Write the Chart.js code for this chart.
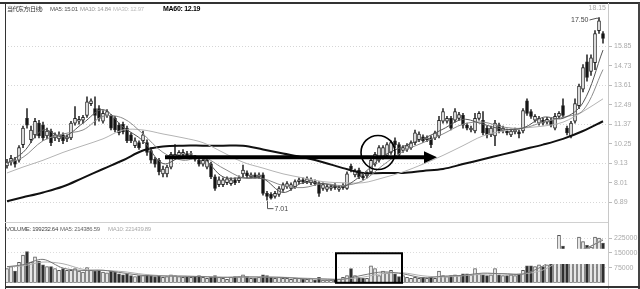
<!DOCTYPE html>
<html>
<head>
<meta charset="utf-8">
<script src="https://cdn.jsdelivr.net/npm/chart.js@4.4.0/dist/chart.umd.min.js"></script>
<style>
  body { margin: 0; background: #fff; }
  #wrap { position: relative; width: 640px; height: 289px; overflow: hidden; font-family: "Liberation Sans", "Noto Sans CJK SC", sans-serif; }
  canvas { position: absolute; left: 0; }
  #price { top: 0; }
  #vol { top: 222px; }
  .ln { position: absolute; }
  .t { position: absolute; white-space: nowrap; font-size: 6px; line-height: 7px; letter-spacing: -0.3px; }
</style>
</head>
<body>
<div id="wrap">
  <canvas id="price" width="640" height="222"></canvas>
  <canvas id="vol" width="640" height="67"></canvas>

  <!-- frame -->
  <div class="ln" style="left:0;top:2px;width:640px;height:2px;background:#333"></div>
  <div class="ln" style="left:5px;top:3px;width:1px;height:286px;background:#333"></div>
  <div class="ln" style="left:608px;top:3px;width:1px;height:286px;background:#c8c8c8"></div>
  <div class="ln" style="left:638px;top:3px;width:2px;height:286px;background:#444"></div>
  <div class="ln" style="left:5px;top:222px;width:603px;height:1px;background:#d0d0d0"></div>
  <div class="ln" style="left:5px;top:286px;width:635px;height:2px;background:#333"></div>

  <!-- headers -->
  <span class="t" style="left:7px;top:6px;color:#333;letter-spacing:-0.6px">当代东方(日线)</span>
  <span class="t" style="left:50px;top:6px;color:#555">MA5: 15.01</span>
  <span class="t" style="left:80px;top:6px;color:#999">MA10: 14.84</span>
  <span class="t" style="left:113px;top:6px;color:#bbb">MA30: 12.97</span>
  <span class="t" style="left:163px;top:5px;color:#000;font-weight:bold;font-size:7px">MA60: 12.19</span>

  <span class="t" style="left:6px;top:226px;color:#444">VOLUME: 199232.64</span>
  <span class="t" style="left:60px;top:226px;color:#666">MA5: 214386.59</span>
  <span class="t" style="left:108px;top:226px;color:#aaa">MA10: 221439.89</span>
</div>

<script>
// daily candles, index 0 .. 149
const opens = [8.97,9.19,9.30,9.30,10.20,11.71,10.48,10.76,11.43,11.32, 10.70,10.98,10.59,10.53,10.76,10.53,10.59,11.43,11.54,11.60,
  11.88,12.55,12.27,12.27,11.54,11.88,11.82,11.71,11.32,11.37, 11.15,10.76,10.14,10.31,10.42,10.31,9.86,9.36,9.30,8.52,
  8.52,8.91,9.47,9.58,9.64,9.69,9.64,9.47,9.30,9.08, 8.91,9.08,8.35,7.90,7.90,8.01,7.96,8.18,8.13,8.52,
  8.58,8.35,8.46,8.35,8.46,7.40,7.34,7.23,7.34,7.62, 7.79,7.68,7.79,8.07,8.18,8.07,8.01,8.07,7.96,7.68,
  7.62,7.68,7.85,7.62,7.73,7.68,8.96,8.46,8.74,8.41, 8.41,8.63,9.08,9.30,9.47,9.58,9.75,10.42,10.20,9.86,
  9.92,10.03,10.31,10.48,10.65,10.48,10.59,10.59,10.70,11.54, 11.54,11.71,11.60,11.71,11.88,11.32,11.04,10.98,11.71,11.60,
  11.15,10.76,10.70,11.32,10.98,10.98,10.76,10.93,10.93,10.98, 12.72,12.10,11.60,11.43,11.60,11.49,11.60,11.15,11.82,12.44,
  11.15,10.70,11.54,12.44,13.39,14.96,14.40,14.90,16.75,16.58];
const highs = [9.36,9.58,9.47,10.14,11.26,12.27,11.26,11.71,11.60,11.49, 11.15,11.09,10.87,10.93,10.87,10.76,11.54,12.38,11.82,11.88,
  12.94,12.83,12.94,12.44,12.16,12.21,11.93,11.82,11.43,11.49, 11.26,10.87,10.59,10.42,10.98,10.48,10.03,9.47,9.41,8.96,
  9.02,9.75,10.20,9.86,9.92,9.81,9.81,9.58,9.47,9.41, 9.47,9.19,8.46,8.35,8.29,8.35,8.29,8.29,8.41,9.02,
  8.69,8.58,8.58,8.58,8.58,7.51,7.45,7.51,7.79,8.01, 8.07,8.01,8.18,8.29,8.29,8.35,8.29,8.18,8.07,8.01,
  7.90,7.90,7.96,7.85,7.96,8.63,9.08,8.80,8.85,8.52, 8.63,9.41,9.75,10.14,10.14,10.31,10.42,10.59,10.31,10.14,
  10.26,10.42,11.04,10.93,10.76,10.70,10.70,10.98,11.82,12.27, 11.82,11.82,12.27,12.05,11.99,11.43,11.26,11.99,12.10,12.10,
  11.26,11.26,11.60,11.43,11.26,11.09,11.09,11.15,11.04,12.27, 12.83,12.21,11.93,11.82,11.71,11.76,11.71,11.99,12.10,12.83,
  11.26,11.54,12.83,13.67,14.79,15.35,15.35,16.75,17.50,16.69];
const lows = [8.85,9.02,8.91,9.19,10.03,11.15,10.31,10.59,10.59,10.42, 10.53,10.14,10.42,10.37,10.26,10.37,10.48,11.32,11.37,11.43,
  11.76,12.44,11.32,11.54,11.43,11.76,11.04,10.93,10.76,10.81, 10.31,10.31,10.03,9.92,10.26,9.58,9.13,8.91,8.46,8.35,
  8.35,8.80,9.36,9.47,9.53,9.47,9.53,9.25,8.96,8.96, 8.80,8.24,7.57,7.79,7.79,7.90,7.85,7.90,8.01,8.35,
  8.29,8.24,8.24,8.24,7.29,7.01,7.06,7.12,7.23,7.51, 7.68,7.57,7.68,7.96,7.96,7.96,7.90,7.85,7.23,7.57,
  7.51,7.57,7.62,7.51,7.62,7.62,8.63,8.35,8.24,8.18, 8.29,8.52,8.96,9.19,9.36,9.47,9.64,10.03,9.47,9.75,
  9.81,9.92,10.20,10.37,10.31,10.37,10.03,10.48,10.59,11.43, 11.43,11.04,11.49,11.60,11.15,11.04,10.93,10.87,11.60,10.76,
  10.59,10.65,10.14,10.87,10.87,10.76,10.65,10.81,10.59,10.87, 11.88,11.71,11.49,11.32,11.32,11.37,11.21,11.04,11.71,11.76,
  10.76,10.59,11.43,12.27,13.22,13.84,14.17,14.51,16.58,16.02];
const closes = [9.19,9.41,9.08,10.03,11.15,11.32,11.04,11.54,10.70,10.59, 10.98,10.31,10.76,10.76,10.42,10.65,11.43,11.71,11.65,11.76,
  12.66,12.72,11.88,11.71,11.99,12.10,11.15,11.04,10.87,10.93, 10.42,10.42,10.42,10.03,10.76,9.75,9.30,9.08,8.63,8.80,
  8.91,9.64,9.64,9.75,9.75,9.58,9.69,9.36,9.08,9.30, 9.30,8.35,7.68,8.18,8.18,8.24,8.18,8.01,8.29,8.74,
  8.41,8.46,8.35,8.46,7.40,7.23,7.12,7.40,7.68,7.90, 7.96,7.90,8.07,8.18,8.07,8.24,8.18,7.96,7.40,7.90,
  7.79,7.79,7.73,7.73,7.85,8.52,8.80,8.69,8.35,8.29, 8.52,9.30,9.64,10.03,10.03,10.20,10.31,10.20,9.64,10.03,
  10.14,10.31,10.87,10.81,10.42,10.59,10.20,10.87,11.60,12.10, 11.71,11.15,12.10,11.93,11.32,11.15,11.15,11.71,11.99,10.87,
  10.76,11.15,11.43,10.98,11.15,10.87,10.98,11.04,10.81,12.16, 11.99,11.82,11.82,11.71,11.43,11.65,11.32,11.82,11.99,11.88,
  10.87,11.43,12.55,13.56,14.62,14.06,15.18,16.58,17.31,16.30];
const volumes = [72000,81000,58500,103500,139500,157500,103500,130500,108000,90000,
  81000,81000,72000,63000,72000,63000,63000,72000,58500,54000,
  76500,63000,58500,63000,54000,49500,58500,54000,45000,40500,
  45000,36000,31500,36000,36000,40500,36000,31500,36000,27000,
  31500,40500,36000,31500,27000,31500,27000,31500,36000,27000,
  22500,27000,36000,27000,22500,18000,27000,31500,31500,40500,
  31500,22500,22500,27000,40500,36000,27000,22500,27000,22500,
  22500,18000,22500,22500,18000,18000,22500,13500,27000,13500,
  13500,13500,18000,18000,27000,36000,72000,36000,27000,22500,
  22500,85500,72000,36000,58500,49500,63000,45000,31500,36000,
  27000,22500,27000,22500,27000,22500,27000,22500,58500,36000,
  31500,36000,40500,36000,45000,45000,40500,72000,45000,40500,
  36000,40500,72000,40500,36000,36000,40500,36000,45000,63000,
  85500,85500,81000,90000,81000,90000,94500,162000,238500,184500,
  117000,126000,162000,229500,207000,189000,180000,229500,225000,199232.64];

// moving averages, read at these candle indexes
const maIdx = [0,4,9,14,19,24,29,34,39,44,49,54,59,64,69,74,79,84,89,94,99,104,109,114,119,124,129,134,139,144,149];
const ma5  = [9.13,9.75,11.04,10.65,11.43,12.21,11.21,10.42,9.11,9.53, 9.41,8.35,8.29,8.24,7.45,8.01,7.96,7.79,8.52,9.53,
  10.09,10.53,11.09,11.65,11.37,11.09,11.15,11.77,11.71,12.61, 15.63];
const ma10 = [9.13,9.47,10.42,10.81,11.04,11.82,11.71,10.81,9.75,9.30, 9.47,8.85,8.29,8.24,7.85,7.73,7.96,7.85,8.13,9.02,
  9.81,10.31,10.81,11.37,11.49,11.21,11.15,11.49,11.77,12.16, 14.51];
const ma30 = [8.57,8.91,9.30,9.75,10.14,10.53,11.04,11.04,10.81,10.59, 10.31,9.75,9.19,8.85,8.52,8.29,8.07,8.01,8.01,8.29,
  8.63,9.08,9.58,10.14,10.70,10.98,11.15,11.26,11.49,12.10, 12.83];
const ma60 = [6.95,7.17,7.45,7.79,8.29,8.80,9.30,9.86,10.09,10.14, 10.14,10.14,10.14,9.92,9.69,9.47,9.19,8.85,8.57,8.57,
  8.57,8.69,8.80,9.08,9.36,9.64,9.92,10.20,10.53,10.98, 11.54];
const volMa5  = [81000,90900,117900,73800,62100,63000,49500,36900,34200,33300, 30600,27000,29700,28800,27000,20700,18900,18000,38700,54900,
  45000,25200,33300,37800,48600,45000,44100,84600,153900,168300, 214386.59];
const volMa10 = [81000,85500,104400,95850,67950,62550,56250,43200,35550,33750, 31950,28800,28350,29250,27900,23850,19800,18450,28350,46800,
  49950,35100,29250,35550,43200,46800,44550,64350,119250,161100, 221439.89];

const priceTicks = [6.89, 8.01, 9.13, 10.25, 11.37, 12.49, 13.61, 14.73, 15.85];
const volTicks = [75000, 150000, 225000];

const xMin = -0.5, xMax = 150.25;
const axisFont = { family: "'Liberation Sans', sans-serif", size: 7 };

const idx = opens.map((_, i) => i);
const up = idx.map(i => closes[i] >= opens[i]);
const maLine = (vals, color, width) => ({
  type: 'line', data: maIdx.map((x, i) => ({ x, y: vals[i] })),
  borderColor: color, borderWidth: width, pointRadius: 0, tension: 0.35, order: 1
});

// marks on the price panel: high / low labels, arrow, circle
const priceMarks = {
  id: 'priceMarks',
  afterDatasetsDraw(chart) {
    const { ctx, scales: { x, y } } = chart;
    ctx.save();
    ctx.font = "7px 'Liberation Sans', sans-serif";
    ctx.fillStyle = '#444';
    ctx.strokeStyle = '#555';
    ctx.lineWidth = 1;

    const hi = highs.indexOf(Math.max(...highs));
    const hx = Math.round(x.getPixelForValue(hi)) + 0.5, hy = y.getPixelForValue(highs[hi]);
    ctx.beginPath();
    ctx.moveTo(hx - 10, hy + 2.5); ctx.lineTo(hx - 2, hy + 0.5); ctx.lineTo(hx, hy + 3);
    ctx.stroke();
    ctx.textAlign = 'right'; ctx.textBaseline = 'middle';
    ctx.fillText(highs[hi].toFixed(2), hx - 11, hy + 3);

    const lo = lows.indexOf(Math.min(...lows));
    const lx = Math.round(x.getPixelForValue(lo)) + 0.5, ly = y.getPixelForValue(lows[lo]);
    ctx.beginPath();
    ctx.moveTo(lx, ly + 1); ctx.lineTo(lx, ly + 8.5); ctx.lineTo(lx + 6, ly + 8.5);
    ctx.stroke();
    ctx.textAlign = 'left';
    ctx.fillText(lows[lo].toFixed(2), lx + 7, ly + 8.5);

    ctx.fillStyle = '#aaa';
    ctx.textAlign = 'right';
    ctx.fillText('18.15', x.right - 2, 8);

    // arrow
    const ay = y.getPixelForValue(9.47);
    const ax1 = x.getPixelForValue(39.5), ax2 = x.getPixelForValue(107.5);
    ctx.strokeStyle = '#000'; ctx.fillStyle = '#000';
    ctx.lineWidth = 4;
    ctx.beginPath(); ctx.moveTo(ax1, ay); ctx.lineTo(ax2 - 10, ay); ctx.stroke();
    ctx.beginPath(); ctx.moveTo(ax2 - 13, ay - 6); ctx.lineTo(ax2, ay); ctx.lineTo(ax2 - 13, ay + 6); ctx.closePath(); ctx.fill();

    // circle
    ctx.lineWidth = 1.6;
    ctx.beginPath();
    ctx.arc(x.getPixelForValue(92.75), y.getPixelForValue(9.75), 17, 0, Math.PI * 2);
    ctx.stroke();
    ctx.restore();
  }
};

// marks on the volume panel: blank band and the box
const volMarks = {
  id: 'volMarks',
  afterDatasetsDraw(chart) {
    const { ctx, scales: { x, y } } = chart;
    ctx.save();
    ctx.fillStyle = '#fff';
    const bx1 = x.getPixelForValue(123.25), bx2 = x.getPixelForValue(149.9);
    ctx.fillRect(bx1, y.getPixelForValue(171000), bx2 - bx1, y.getPixelForValue(94500) - y.getPixelForValue(171000));
    ctx.strokeStyle = '#000'; ctx.lineWidth = 2;
    const rx1 = x.getPixelForValue(82.25), rx2 = x.getPixelForValue(98.75);
    const ry1 = y.getPixelForValue(148500), ry2 = y.getPixelForValue(0);
    ctx.strokeRect(rx1, ry1, rx2 - rx1, ry2 - ry1);
    ctx.restore();
  }
};

const baseOptions = (pad, yAxis) => ({
  responsive: false,
  animation: false,
  events: [],
  layout: { padding: pad },
  plugins: { legend: { display: false }, tooltip: { enabled: false } },
  scales: {
    x: { type: 'linear', min: xMin, max: xMax, offset: false, display: false, grid: { offset: false } },
    y: Object.assign({
      position: 'right',
      afterFit: s => { s.width = 32; },
      border: { display: false, dash: [1, 2] },
      ticks: { color: '#aaa', font: axisFont, padding: 2 }
    }, yAxis)
  }
});

new Chart(document.getElementById('price'), {
  data: {
    datasets: [
      maLine(ma5, '#555', 1),
      maLine(ma10, '#8c8c8c', 1),
      maLine(ma30, '#b4b4b4', 1),
      maLine(ma60, '#111', 2),
      {
        type: 'bar', data: idx.map(i => ({ x: i, y: [opens[i], closes[i]] })),
        backgroundColor: up.map(u => u ? '#fff' : '#111'), borderColor: '#222',
        borderWidth: 1, borderSkipped: false, barThickness: 3, grouped: false, order: 5
      },
      {
        type: 'bar', data: idx.map(i => ({ x: i, y: [lows[i], highs[i]] })),
        backgroundColor: '#333', barThickness: 1, grouped: false, order: 6
      }
    ]
  },
  options: baseOptions({ left: 5, top: 5, bottom: 2, right: 0 }, {
    min: 6.11, max: 18.15,
    afterBuildTicks: s => { s.ticks = priceTicks.map(v => ({ value: v })); },
    grid: { color: c => c.index % 2 === 0 ? '#d6d6d6' : 'rgba(0,0,0,0)', tickColor: '#bbb', tickLength: 4 },
    ticks: { color: '#aaa', font: axisFont, padding: 2, callback: v => v.toFixed(2) }
  }),
  plugins: [priceMarks]
});

new Chart(document.getElementById('vol'), {
  data: {
    datasets: [
      Object.assign(maLine(volMa5, '#777', 1), { tension: 0.3 }),
      Object.assign(maLine(volMa10, '#b0b0b0', 1), { tension: 0.3 }),
      {
        type: 'bar', data: idx.map(i => ({ x: i, y: volumes[i] })),
        backgroundColor: up.map(u => u ? '#fff' : '#222'), borderColor: '#555',
        borderWidth: 1, borderSkipped: false, barThickness: 3, grouped: false, order: 5
      }
    ]
  },
  options: baseOptions({ left: 5, top: 3, bottom: 3, right: 0 }, {
    min: 0, max: 274500,
    afterBuildTicks: s => { s.ticks = volTicks.map(v => ({ value: v })); },
    grid: { color: '#dcdcdc', tickColor: '#bbb', tickLength: 4 },
    ticks: { color: '#aaa', font: axisFont, padding: 2, callback: v => String(v) }
  }),
  plugins: [volMarks]
});
</script>
</body>
</html>
